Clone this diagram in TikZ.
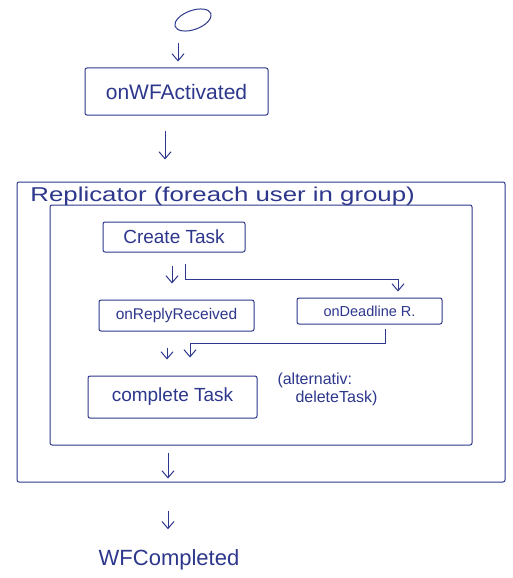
\documentclass[tikz,border=0pt]{standalone}
\usepackage{fontspec}
\setmainfont{Liberation Sans}
\usepackage{graphicx}
\usetikzlibrary{arrows.meta,shapes.geometric,calc}
\definecolor{ink}{RGB}{45,55,140}
\begin{document}
\begin{tikzpicture}[x=1pt,y=-1pt,color=ink,line width=1pt,
  box/.style={draw,rounded corners=2pt,inner sep=0pt,align=center},
  lbl/.style={inner sep=0pt,align=center},
  arr/.style={-{Straight Barb[length=7pt,width=12pt]}}]
\useasboundingbox[fill=white] (0,0) rectangle (513,578);

% nodes
\node[draw,ellipse,rotate=20,minimum width=38pt,minimum height=19pt,inner sep=0pt] (start) at (193,20) {};
\node[box,minimum width=183pt,minimum height=47pt,font=\fontsize{21}{24}\selectfont] (act) at (176.5,91.5) {onWFActivated};
\node[box,minimum width=488pt,minimum height=300pt] (rep) at (261,332) {};
\node[lbl,anchor=base west,font=\fontsize{20}{24}\selectfont] (replabel) at (30,201) {\scalebox{1.29}[1]{Replicator (foreach user in group)}};
\node[box,minimum width=422pt,minimum height=240pt] (inner) at (261,325) {};
\node[box,minimum width=142pt,minimum height=30pt,font=\fontsize{19}{22}\selectfont] (create) at (174,237) {Create Task};
\node[box,minimum width=155pt,minimum height=31pt,font=\fontsize{15.5}{18}\selectfont] (reply) at (176.5,315.5) {onReplyReceived};
\node[box,minimum width=145pt,minimum height=26pt,font=\fontsize{14.5}{17}\selectfont] (dead) at (369.5,311) {onDeadline R.};
\node[box,minimum width=169pt,minimum height=42pt,font=\fontsize{19}{22}\selectfont] (complete) at (172.5,397) {complete Task};
\node[lbl,align=left,anchor=west,font=\fontsize{16}{18}\selectfont] (alt) at (277,389) {(alternativ:\\ \hspace*{18pt}deleteTask)};
\node[lbl,font=\fontsize{22}{26}\selectfont] (done) at (169,560) {WFCompleted};

% connectors
\draw[arr,shorten <=23pt,shorten >=6pt] ([xshift=-15pt]start.center) -- ([xshift=-15pt]start.center |- act.north);
\draw[arr,shorten <=15pt,shorten >=22pt] ([xshift=-11.5pt]act.south) -- ([xshift=-11.5pt]act.south |- rep.north);
\draw[arr,shorten <=13pt,shorten >=16pt] ([xshift=-2pt]create.south) -- ([xshift=-2pt]create.south |- reply.north);
\draw[arr,shorten >=6pt] ($(create.south)+(11,11)$) |- ($(dead.north)+(28.5,-18)$) -- ($(dead.north)+(28.5,0)$);
\draw[arr,shorten <=16pt,shorten >=16pt] ([xshift=-9.5pt]reply.south) -- ([xshift=-9.5pt]reply.south |- complete.north);
\draw[arr,shorten >=18pt] ($(dead.south)+(15.5,4)$) |- ($(complete.north)+(17.5,-32)$) -- ($(complete.north)+(17.5,0)$);
\draw[arr,shorten <=7pt,shorten >=4pt] ([xshift=-93pt]inner.south) -- ([xshift=-93pt]inner.south |- rep.south);
\draw[arr,shorten <=28pt,shorten >=20pt] ([xshift=-93pt]rep.south) -- ([xshift=-93pt]rep.south |- done.north);
\end{tikzpicture}
\end{document}
